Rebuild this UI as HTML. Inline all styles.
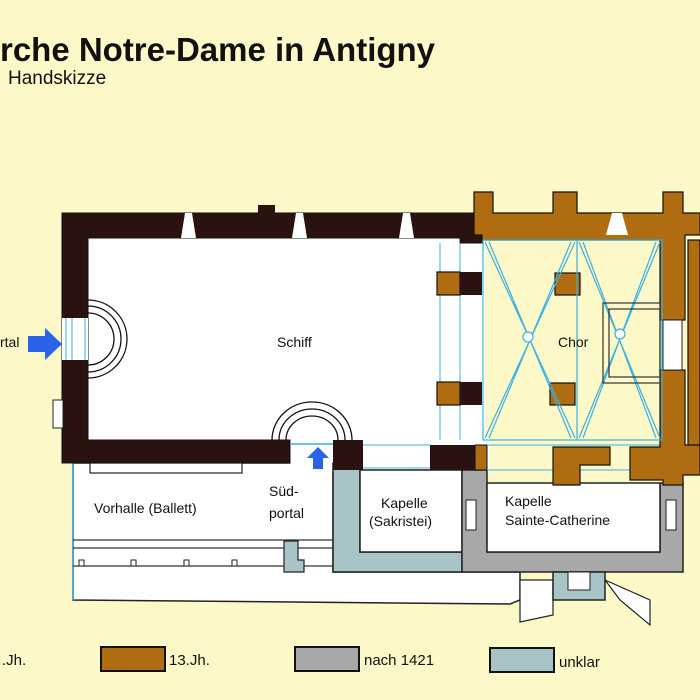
<!DOCTYPE html>
<html><head><meta charset="utf-8"><style>
html,body{margin:0;padding:0;background:#fcf8c8;}
svg{display:block;font-family:"Liberation Sans",Arial,sans-serif;}
</style></head><body>
<svg width="700" height="700" viewBox="0 0 700 700" xmlns="http://www.w3.org/2000/svg">
<rect width="700" height="700" fill="#fcf8c8"/>
<text x="0" y="61" font-size="33" font-weight="bold" fill="#111" textLength="435" lengthAdjust="spacingAndGlyphs">rche Notre-Dame in Antigny</text>
<text x="8" y="84" font-size="19" fill="#111">Handskizze</text>

<!-- bottom strip and south annexes -->
<path d="M73,463 L333,463 L333,572 L520,572 L520,600 L510,604 L73,600 Z" fill="#fff" stroke="#222" stroke-width="1.5"/>
<line x1="73" y1="463" x2="73" y2="600" stroke="#3ab0e0" stroke-width="1.5"/>
<g stroke="#333" stroke-width="1.2" fill="none">
<line x1="73" y1="540" x2="333" y2="540"/><line x1="73" y1="548" x2="333" y2="548"/><line x1="73" y1="566" x2="333" y2="566"/>
</g>
<rect x="90" y="463" width="152" height="10" fill="#fff" stroke="#222" stroke-width="1.2"/>
<g fill="#fff" stroke="#222" stroke-width="1">
<rect x="79" y="560" width="5" height="6"/><rect x="131" y="560" width="5" height="6"/><rect x="184" y="560" width="5" height="6"/><rect x="232" y="560" width="5" height="6"/>
</g>
<path d="M284,541 L298,541 L298,560 L304,560 L304,572 L284,572 Z" fill="#a9c4c6" stroke="#222" stroke-width="1.2"/>

<!-- white fill behind south wall area -->
<rect x="290" y="438" width="200" height="34" fill="#fff"/>

<!-- Sakristei -->
<path d="M333,463 L360,463 L360,552 L462,552 L462,572 L333,572 Z" fill="#a9c4c6" stroke="#222" stroke-width="1.5"/>
<rect x="360" y="470" width="102" height="82" fill="#fff" stroke="#222" stroke-width="1.5"/>
<!-- Sainte-Catherine -->
<path d="M462,470 L487,470 L487,552 L660,552 L660,483 L683,483 L683,572 L462,572 Z" fill="#a8a8a8" stroke="#222" stroke-width="1.5"/>
<rect x="487" y="483" width="173" height="69" fill="#fff" stroke="#222" stroke-width="1.5"/>
<rect x="466" y="500" width="10" height="30" fill="#fff" stroke="#222"/>
<rect x="666" y="500" width="10" height="30" fill="#fff" stroke="#222"/>
<path d="M520,580 L553,580 L553,615 L520,622 Z M605,580 L650,600 L650,625 L620,600 Z" fill="#fff" stroke="#222" stroke-width="1.2"/>
<path d="M553,572 L605,572 L605,600 L553,600 Z" fill="#a9c4c6" stroke="#222" stroke-width="1.5"/>
<rect x="568" y="572" width="22" height="18" fill="#fff" stroke="#222"/>

<!-- Nave -->
<rect x="75" y="226" width="410" height="226" fill="#fff"/>
<path d="M62,213 L482,213 L482,243 L460,243 L460,238 L88,238 L88,440 L290,440 L290,463 L62,463 Z" fill="#2a1210" stroke="#111" stroke-width="1"/>
<rect x="258" y="205" width="17" height="10" fill="#2a1210"/>
<rect x="333" y="440" width="30" height="30" fill="#2a1210"/>
<rect x="430" y="445" width="45" height="25" fill="#2a1210"/>
<rect x="475" y="445" width="12" height="25" fill="#b06c10" stroke="#111"/>
<g fill="#fff"><path d="M185,213 L192,213 L196,238 L181,238 Z"/><path d="M296,213 L303,213 L307,238 L292,238 Z"/><path d="M403,213 L410,213 L414,238 L399,238 Z"/></g>
<rect x="62" y="318" width="26" height="42" fill="#fff"/>
<line x1="66" y1="318" x2="66" y2="360" stroke="#3ab0e0"/><line x1="72" y1="318" x2="72" y2="360" stroke="#3ab0e0"/><line x1="85" y1="318" x2="85" y2="360" stroke="#3ab0e0"/>
<rect x="53" y="400" width="10" height="28" fill="#fff" stroke="#222"/>
<g fill="none" stroke="#111" stroke-width="1.3">
<path d="M88,300 A38,38 0 0 1 88,378"/><path d="M88,306 A32,32 0 0 1 88,372"/><path d="M88,313 A25,25 0 0 1 88,365"/>
<path d="M272,440 A40,38 0 0 1 352,440"/><path d="M279,440 A33,31 0 0 1 345,440"/><path d="M286,440 A26,24 0 0 1 338,440"/>
</g>
<line x1="290" y1="444" x2="333" y2="444" stroke="#3ab0e0" stroke-width="1.5"/>
<g stroke="#3ab0e0" stroke-width="1" fill="none">
<line x1="363" y1="445" x2="430" y2="445"/><line x1="363" y1="468" x2="430" y2="468"/>
<line x1="460" y1="243" x2="460" y2="440"/><line x1="440" y1="243" x2="440" y2="440"/>
<line x1="487" y1="445" x2="680" y2="445"/><line x1="487" y1="470" x2="680" y2="470"/>
</g>
<!-- Choir walls -->
<g fill="#b06c10" stroke="#111" stroke-width="1.2">
<path d="M474,192 L493,192 L493,213 L553,213 L553,192 L577,192 L577,213 L663,213 L663,192 L683,192 L683,213 L700,213 L700,235 L685,235 L685,320 L660,320 L660,240 L482,240 L482,235 L474,235 Z"/>
<path d="M660,370 L685,370 L685,445 L700,445 L700,475 L683,475 L683,485 L663,485 L663,480 L630,480 L630,447 L660,447 Z"/>
<path d="M553,447 L610,447 L610,465 L580,465 L580,485 L553,485 Z"/>
<rect x="688" y="240" width="12" height="205"/>
<rect x="555" y="273" width="25" height="22"/><rect x="550" y="383" width="25" height="22"/>
<rect x="437" y="272" width="23" height="23"/><rect x="437" y="382" width="23" height="23"/>
</g>
<rect x="460" y="272" width="22" height="23" fill="#2a1210"/><rect x="460" y="382" width="22" height="23" fill="#2a1210"/>
<path d="M612,213 L622,213 L628,235 L606,235 Z" fill="#fff"/>
<path d="M663,320 L682,320 L682,370 L663,370 Z" fill="#fff" stroke="#222"/>
<g stroke="#3ab0e0" stroke-width="1.2" fill="none">
<rect x="483" y="240" width="179" height="200"/>
<line x1="577" y1="240" x2="577" y2="440"/>
<path d="M485,242 L575,438 M575,242 L485,438 M489,242 L571,438 M571,242 L489,438"/>
<path d="M579,242 L660,438 M660,242 L579,438 M583,242 L656,438 M656,242 L583,438"/>
<circle cx="528" cy="337" r="5" fill="#fff"/><circle cx="620" cy="334" r="5" fill="#fff"/>
</g>
<g fill="none" stroke="#333" stroke-width="1.2">
<rect x="603" y="303" width="57" height="80"/><rect x="609" y="309" width="51" height="68"/>
</g>
<path d="M28,336 L45,336 L45,328 L62,344 L45,360 L45,352 L28,352 Z" fill="#2a63e8"/>
<path d="M313,469 L313,458 L307,458 L318,447 L329,458 L323,458 L323,469 Z" fill="#2a63e8"/>
<g font-size="14" fill="#111">
<text x="0" y="347">rtal</text>
<text x="277" y="347">Schiff</text>
<text x="558" y="347">Chor</text>
<text x="94" y="513">Vorhalle (Ballett)</text>
<text x="269" y="496">Süd-</text><text x="269" y="518">portal</text>
<text x="381" y="508">Kapelle</text><text x="369" y="526">(Sakristei)</text>
<text x="505" y="506">Kapelle</text><text x="505" y="525">Sainte-Catherine</text>
</g>
<g stroke="#111" stroke-width="2">
<rect x="101" y="647" width="64" height="24" fill="#b06c10"/>
<rect x="295" y="647" width="64" height="24" fill="#a8a8a8"/>
<rect x="490" y="648" width="64" height="24" fill="#a9c4c6"/>
</g>
<g font-size="15" fill="#111">
<text x="2" y="665">.Jh.</text><text x="169" y="665">13.Jh.</text><text x="364" y="665">nach 1421</text><text x="559" y="667">unklar</text>
</g>
</svg>
</body></html>
